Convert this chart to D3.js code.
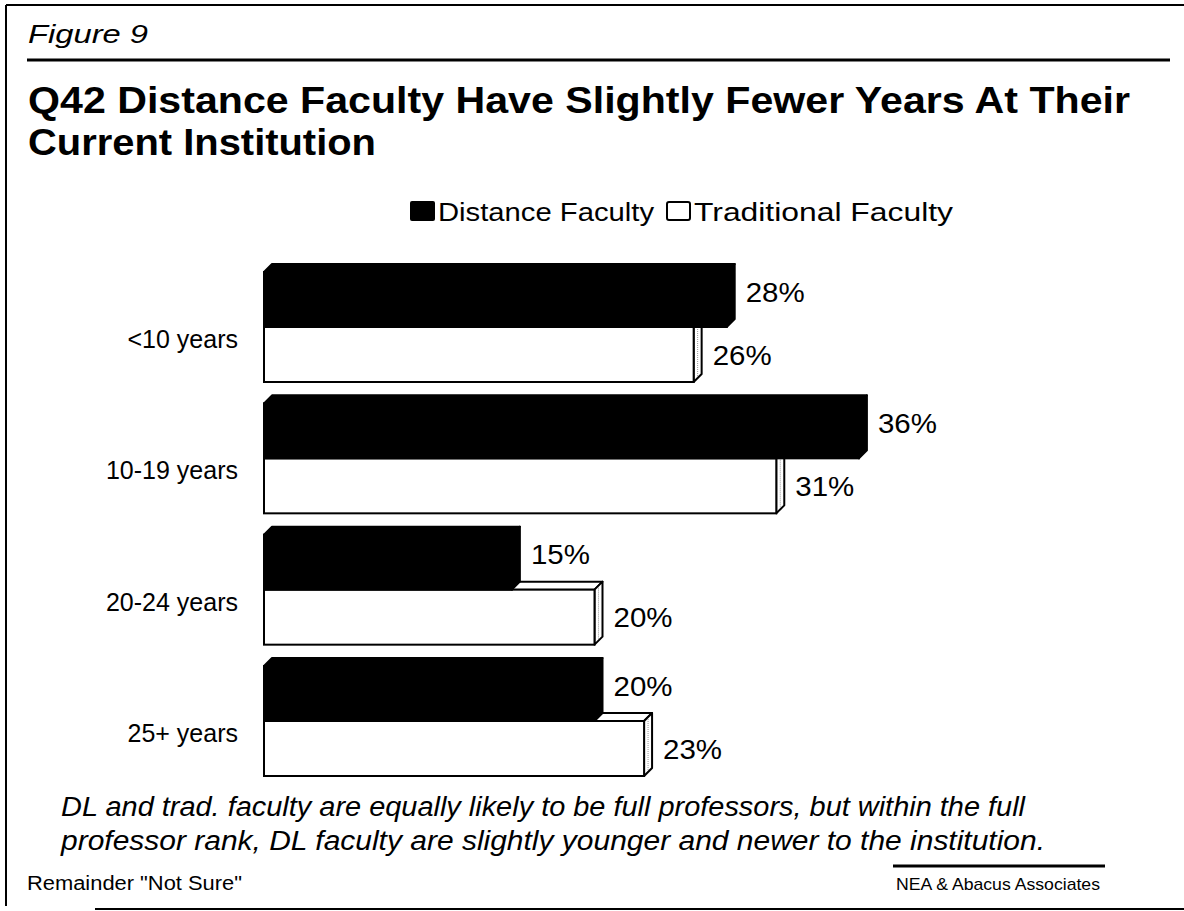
<!DOCTYPE html>
<html>
<head>
<meta charset="utf-8">
<script src="https://cdn.jsdelivr.net/npm/d3@7"></script>
<style>
  body { margin: 0; background: #fff; }
  svg { display: block; font-family: Arial, "Liberation Sans", sans-serif; }
</style>
</head>
<body>
<script>
// chart values
const categories = ["<10 years", "10-19 years", "20-24 years", "25+ years"];
const distance = [28, 36, 15, 20];
const traditional = [26, 31, 20, 23];
const seriesNames = ["Distance Faculty", "Traditional Faculty"];

const W = 1184, H = 911;
const barH = 55;   // front face height
const depth = 8;   // 3d offset

const svg = d3.select('body').append('svg')
    .attr('width', W)
    .attr('height', H);

// stretched text helper (scan is wider than plain Arial)
function fitText(sel, len) {
    return sel.attr('textLength', len).attr('lengthAdjust', 'spacingAndGlyphs');
}

// frame
svg.append('line').attr('x1', 6).attr('y1', 5).attr('x2', W).attr('y2', 5)
    .attr('stroke', '#000').attr('stroke-width', 2);
svg.append('line').attr('x1', 6).attr('y1', 5).attr('x2', 6).attr('y2', 906)
    .attr('stroke', '#000').attr('stroke-width', 2);
svg.append('line').attr('x1', 95).attr('y1', 909).attr('x2', W).attr('y2', 909)
    .attr('stroke', '#000').attr('stroke-width', 2);

fitText(svg.append('text')
    .attr('x', 28).attr('y', 43)
    .style('font-size', '25px').style('font-style', 'italic')
    .text('Figure 9'), 120);
svg.append('line').attr('x1', 27).attr('y1', 60).attr('x2', 1170).attr('y2', 60)
    .attr('stroke', '#000').attr('stroke-width', 3);

const title = svg.append('text')
    .style('font-size', '37px').style('font-weight', 'bold');
fitText(title.append('tspan').attr('x', 28).attr('y', 113)
    .text('Q42 Distance Faculty Have Slightly Fewer Years At Their'), 1102);
fitText(title.append('tspan').attr('x', 28).attr('y', 155)
    .text('Current Institution'), 348);

// legend
const legend = svg.append('g').attr('transform', 'translate(410,200)');
legend.append('rect').attr('x', 0).attr('y', 1).attr('width', 25).attr('height', 20)
    .attr('rx', 2).attr('fill', '#000');
fitText(legend.append('text').attr('x', 28).attr('y', 21)
    .style('font-size', '26px').text(seriesNames[0]), 216);
legend.append('rect').attr('x', 257).attr('y', 2).attr('width', 23).attr('height', 18)
    .attr('rx', 2).attr('fill', '#fff').attr('stroke', '#000').attr('stroke-width', 2);
fitText(legend.append('text').attr('x', 284).attr('y', 21)
    .style('font-size', '26px').text(seriesNames[1]), 259);

// scales
const x = d3.scaleLinear().domain([0, 40]).range([264, 925]);
const y = d3.scalePoint().domain(categories).range([327, 721]);

function drawBar(g, value, top, fill) {
    const x0 = x(0), x1 = x(value);
    const bar = g.append('g');
    // top face
    bar.append('path')
        .attr('d', `M${x0},${top} L${x0 + depth},${top - depth} L${x1 + depth},${top - depth} L${x1},${top} Z`)
        .attr('fill', fill).attr('stroke', '#000').attr('stroke-width', 2).attr('stroke-linejoin', 'round');
    // side face
    bar.append('path')
        .attr('d', `M${x1},${top} L${x1 + depth},${top - depth} L${x1 + depth},${top + barH - depth} L${x1},${top + barH} Z`)
        .attr('fill', fill).attr('stroke', '#000').attr('stroke-width', 2).attr('stroke-linejoin', 'round');
    if (fill !== '#000') {
        bar.append('line')
            .attr('x1', x1 + depth / 2).attr('y1', top - depth / 2 + 2)
            .attr('x2', x1 + depth / 2).attr('y2', top + barH - depth / 2 - 2)
            .attr('stroke', '#999').attr('stroke-width', 1).attr('stroke-dasharray', '1,1');
    }
    // front face
    bar.append('rect')
        .attr('x', x0).attr('y', top)
        .attr('width', x1 - x0).attr('height', barH)
        .attr('fill', fill).attr('stroke', '#000').attr('stroke-width', 2);
}

const plot = svg.append('g');
categories.forEach((cat, i) => {
    const b = y(cat);
    const g = plot.append('g');
    drawBar(g, traditional[i], b, '#fff');
    drawBar(g, distance[i], b - barH, '#000');

    fitText(g.append('text')
        .attr('x', x(distance[i]) + depth + 11)
        .attr('y', b - barH / 2 - depth / 2 + 6)
        .style('font-size', '28px')
        .text(distance[i] + '%'), 59);
    fitText(g.append('text')
        .attr('x', x(traditional[i]) + depth + 11)
        .attr('y', b + barH / 2 + 10)
        .style('font-size', '28px')
        .text(traditional[i] + '%'), 59);

    g.append('text')
        .attr('x', 238).attr('y', b + 21)
        .attr('text-anchor', 'end')
        .style('font-size', '25px')
        .text(cat);
});

// notes
const note = svg.append('text')
    .style('font-size', '27px').style('font-style', 'italic');
fitText(note.append('tspan').attr('x', 61).attr('y', 816)
    .text('DL and trad. faculty are equally likely to be full professors, but within the full'), 964);
fitText(note.append('tspan').attr('x', 61).attr('y', 850)
    .text('professor rank, DL faculty are slightly younger and newer to the institution.'), 984);

svg.append('line').attr('x1', 893).attr('y1', 866).attr('x2', 1105).attr('y2', 866)
    .attr('stroke', '#000').attr('stroke-width', 3);
fitText(svg.append('text')
    .attr('x', 27).attr('y', 890)
    .style('font-size', '20px')
    .text('Remainder "Not Sure"'), 215);
fitText(svg.append('text')
    .attr('x', 896).attr('y', 890)
    .style('font-size', '17px')
    .text('NEA & Abacus Associates'), 204);
</script>
</body>
</html>
